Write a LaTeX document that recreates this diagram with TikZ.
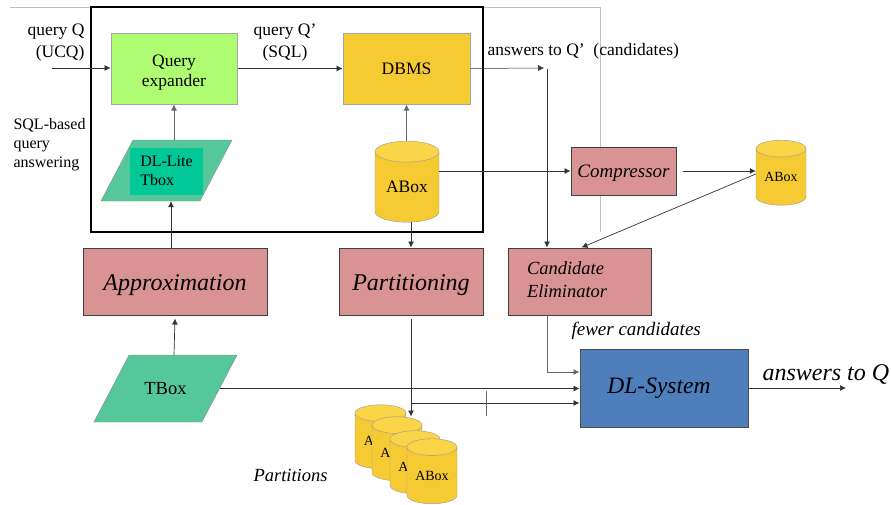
\documentclass[tikz,border=0pt]{standalone}
\usepackage{fontspec}
\setmainfont{Liberation Serif}
\usetikzlibrary{shapes.geometric,arrows.meta}
\definecolor{rose}{HTML}{D99393}
\definecolor{lime}{HTML}{AFFC72}
\definecolor{gold}{HTML}{F6CA33}
\definecolor{goldtop}{HTML}{F9D547}
\definecolor{sea}{HTML}{55C79A}
\definecolor{deepsea}{HTML}{00C896}
\definecolor{steel}{HTML}{4E7FBC}
\newcommand{\nudged}[2]{\raisebox{#1}[\height][\depth]{#2}}
\tikzstyle{rose box}=[
    draw = black!75,
    fill = rose,
    line width = 1pt,
    inner sep = 0pt,
    align = left,
    font = \itshape
]
\tikzstyle{light box}=[
    draw = black!35,
    line width = 1pt,
    inner sep = 0pt,
    align = center
]
\tikzstyle{slanted}=[
    xslant = 0.525,
    transform shape,
    draw = black!45,
    fill = sea,
    inner sep = 0pt
]
\tikzstyle{drum}=[
    cylinder,
    shape border rotate = 90,
    cylinder uses custom fill,
    cylinder body fill = gold,
    cylinder end fill = goldtop,
    draw = black!40,
    inner sep = 0pt,
    aspect = 0.5
]
\tikzstyle{flow}=[
    -{Latex[length=6pt,width=6pt]},
    black!80,
    line width = 0.7pt
]
\begin{document}
\begin{tikzpicture}[x=1pt, y=-1pt, font=\fontsize{17.5}{20}\selectfont]
        \useasboundingbox (0,0) rectangle (891,504);

        % outer lines first
        \coordinate (frameL) at (10,7);
        \coordinate (frameC) at (600,7);
        \coordinate (frameB) at (600,232);
        \draw[black!25, line width=1pt] (frameL) -- (frameC) -- (frameB);
        \node[draw, line width=2pt, minimum width=392pt, minimum height=225pt, inner sep=0pt] (sqlbox) at (287,119.5) {};

        \node[light box, fill=lime, minimum width=126pt, minimum height=71pt] (qe) at (174,68.5) {\nudged{-4pt}{Query}\\\nudged{-4pt}{expander}};
        \node[light box, fill=gold, minimum width=127pt, minimum height=71pt] (dbms) at (406.5,68.5) {DBMS};

        \node[slanted, minimum width=99pt, minimum height=61pt] (lite) at (166.5,170.5) {};
        \node[fill=deepsea, minimum width=73pt, minimum height=47pt, inner sep=0pt, align=left, font=\fontsize{16}{18.5}\selectfont] (litein) at (166.5,171) {DL-Lite\\Tbox};
        \node[drum, minimum width=64pt, minimum height=81pt] (abox) at (407,187) {ABox};

        \node[rose box, minimum width=105pt, minimum height=48pt, font=\itshape\fontsize{19}{21}\selectfont] (comp) at (623.5,171) {\nudged{-2pt}{Compressor}};
        \node[drum, minimum width=50pt, minimum height=65pt, font=\fontsize{14}{16}\selectfont] (small) at (781,177) {ABox};

        \node[rose box, minimum width=184pt, minimum height=67pt, font=\itshape\fontsize{24}{26}\selectfont] (appr) at (175,281.5) {\nudged{-4pt}{Approximation}};
        \node[rose box, minimum width=144pt, minimum height=67pt, font=\itshape\fontsize{24}{26}\selectfont] (part) at (411,281.5) {\nudged{-4pt}{Partitioning}};
        \node[rose box, minimum width=143pt, minimum height=67pt, text width=105pt, font=\itshape\fontsize{18.5}{23}\selectfont] (cand) at (579.5,281.5) {\nudged{2pt}{Candidate}\\\nudged{2pt}{Eliminator}};

        \node[slanted, minimum width=108pt, minimum height=67pt] (tbox) at (165.5,388.5) {};
        \node[font=\fontsize{18.5}{20}\selectfont] (tboxtext) at (tbox.center) {TBox};
        \node[draw=black!70, fill=steel, line width=1pt, minimum width=168pt, minimum height=78pt, inner sep=0pt, font=\itshape\fontsize{23.5}{26}\selectfont] (dl) at (664,388) {\hspace*{-10pt}DL-System};

        \node[drum, minimum width=51pt, minimum height=64pt, font=\fontsize{14}{16}\selectfont] (p1) at (380.5,441) {ABox};
        \node[drum, minimum width=50pt, minimum height=64pt, font=\fontsize{14}{16}\selectfont] (p2) at (397,453) {ABox};
        \node[drum, minimum width=50pt, minimum height=63pt, font=\fontsize{14}{16}\selectfont] (p3) at (415,466.5) {ABox};
        \node[drum, minimum width=50pt, minimum height=65pt, font=\fontsize{14}{16}\selectfont] (p4) at (432,475.5) {ABox};

        \node[anchor=east, align=right, font=\fontsize{17.5}{22}\selectfont] (inq) at (88,43) {query Q\\(UCQ)};
        \node[anchor=west, align=left, font=\fontsize{16}{19}\selectfont] (sqlnote) at (10,145) {SQL-based\\query\\answering};
        \node[align=center, font=\fontsize{17.5}{22}\selectfont] (outq) at (285,43) {query Q’\\(SQL)};
        \node[anchor=west] (cands) at (484,51) {answers to Q’~ (candidates)};
        \node[anchor=west, font=\itshape\fontsize{19}{21}\selectfont] (fewer) at (568,331) {fewer candidates};
        \node[anchor=west, font=\itshape\fontsize{24}{26}\selectfont] (ansq) at (759,374) {answers to Q};
        \node[anchor=west, font=\itshape\fontsize{18.5}{20}\selectfont] (partnote) at (250,475) {Partitions};

        % free ends
        \coordinate (qstart) at (52,68);
        \coordinate (candend) at (544,68);
        \coordinate (candtop) at (547,69);
        \coordinate (ansend) at (846,388);
        \coordinate (tickT) at (486,391);
        \coordinate (tickB) at (486,416);

        \draw[flow, line width=0.5pt] (qstart) -- (qstart -| qe.west);
        \draw[flow, line width=0.5pt] (qe.east) -- (dbms.west);
        \draw[flow, line width=0.5pt] (dbms.east) -- (candend);
        \draw[flow] (candtop) -- (candtop |- cand.north);
        \draw[flow, black!60] (lite.north -| qe.south) -- (qe.south);
        \draw[flow] ([xshift=-4pt]appr.north) -- ([xshift=-4pt]appr.north |- lite.south);
        \draw[flow, black!60] (abox.north -| dbms.south) -- (dbms.south);
        \draw[flow] ([xshift=4pt]abox.south) -- ([xshift=4pt]abox.south |- part.north);
        \draw[flow] (abox.east |- comp.west) -- (comp.west);
        \draw[flow] ([xshift=6pt]comp.east) -- (comp.east -| small.west);
        \draw[flow] ([yshift=-3pt]comp.east -| small.west) -- ([xshift=2pt]cand.north);
        \draw[flow] ([xshift=-1pt]tbox.north -| appr.north) -- ([yshift=-3pt]appr.south);
        \draw[flow] ([yshift=-3pt]part.south) -- (part.south |- p2.north);
        \draw[flow] (tbox.east) -- (tbox.east -| dl.west);
        \draw[flow] ([yshift=-15pt]dl.west -| part.south) -- ([yshift=-15pt]dl.west);
        \draw[black!60, line width=0.5pt] (tickT) -- (tickB);
        \draw[flow, black!60] ([xshift=-32pt]cand.south) |- ([yshift=16pt]dl.west);
        \draw[flow] (dl.east) -- (ansend);

\end{tikzpicture}
\end{document}
